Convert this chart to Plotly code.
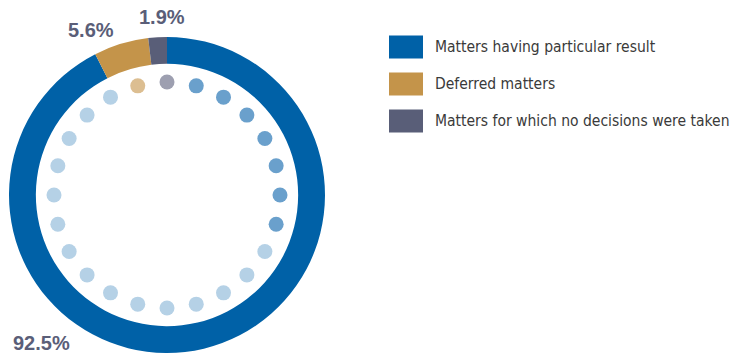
import plotly.graph_objects as go

# Case outcome shares
categories = ["Matters having particular result", "Deferred matters",
              "Matters for which no decisions were taken"]
shares = [92.5, 5.6, 1.9]
colors = ["#0061a7", "#c4944a", "#595e78"]

# Decorative ring of 24 dots (one per 15 degrees, clockwise from the top)
dot_groups = ["none"] + ["dark"] * 7 + ["light"] * 15 + ["deferred"]
dot_palette = {"none": "#9d9fb0", "dark": "#6aa0cc", "light": "#b5d1e6",
               "deferred": "#dcbe91"}
dot_angles = [i * 15 for i in range(len(dot_groups))]
dot_radius = 113

W, H = 736, 356
cx, cy, R = 167, 195, 158
dom_x = [(cx - R) / W, (cx + R) / W]
dom_y = [(H - cy - R) / H, (H - cy + R) / H]

fig = go.Figure()
fig.add_trace(go.Pie(
    labels=categories, values=shares, sort=False, direction="clockwise",
    rotation=0, hole=0.83, marker=dict(colors=colors, line=dict(width=0)),
    textinfo="none", hoverinfo="label+percent", showlegend=False,
    domain=dict(x=dom_x, y=dom_y),
))
fig.add_trace(go.Scatterpolar(
    r=[dot_radius] * len(dot_groups), theta=dot_angles, mode="markers",
    marker=dict(size=15, color=[dot_palette[g] for g in dot_groups]),
    showlegend=False, hoverinfo="skip",
))

label_font = dict(family="Liberation Sans, Arial, sans-serif",
                  size=20, color="#5a5e78")
label_pos = [(41, 343), (91, 30), (162, 17)]
for v, (x, y) in zip(shares, label_pos):
    fig.add_annotation(x=x / W, y=1 - y / H, xref="paper", yref="paper",
                       text=f"<b>{v:.1f}%</b>", showarrow=False,
                       font=label_font, xanchor="center", yanchor="middle")

# Legend: swatches and labels
leg_font = dict(family="DejaVu Sans Condensed, Liberation Sans, sans-serif",
                size=15.5, color="#3a3a3a")
for i, (name, col) in enumerate(zip(categories, colors)):
    yc = 47 + i * 37
    fig.add_shape(type="rect", xref="paper", yref="paper",
                  x0=389 / W, x1=423 / W, y0=1 - (yc - 11.5) / H,
                  y1=1 - (yc + 11.5) / H, fillcolor=col, line=dict(width=0))
    fig.add_annotation(x=433 / W, y=1 - yc / H, xref="paper", yref="paper",
                       text=name, showarrow=False, font=leg_font,
                       xanchor="left", yanchor="middle")

fig.update_layout(
    width=W, height=H, margin=dict(l=0, r=0, t=0, b=0),
    paper_bgcolor="white", plot_bgcolor="white",
    polar=dict(
        domain=dict(x=dom_x, y=dom_y), bgcolor="rgba(0,0,0,0)",
        radialaxis=dict(range=[0, R], visible=False),
        angularaxis=dict(rotation=90, direction="clockwise", visible=False),
    ),
)
fig.write_html("out.html")
